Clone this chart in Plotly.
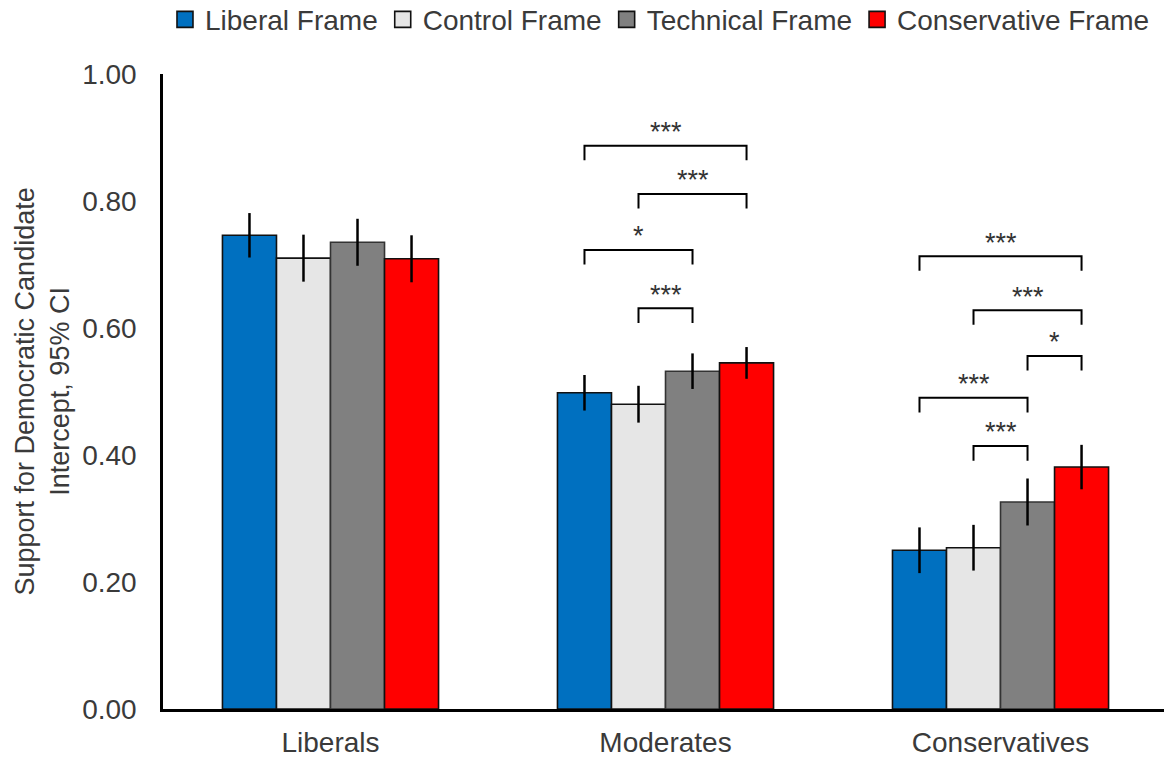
import plotly.graph_objects as go

# ---------------- data ----------------
categories = ["Liberals", "Moderates", "Conservatives"]
frames = ["Liberal Frame", "Control Frame", "Technical Frame", "Conservative Frame"]

liberal_frame_mean = [0.746, 0.498, 0.250]
control_frame_mean = [0.710, 0.480, 0.254]
technical_frame_mean = [0.735, 0.532, 0.326]
conservative_frame_mean = [0.709, 0.545, 0.381]

liberal_frame_ci = [0.035, 0.028, 0.036]
control_frame_ci = [0.037, 0.029, 0.036]
technical_frame_ci = [0.037, 0.028, 0.037]
conservative_frame_ci = [0.037, 0.025, 0.035]

y_ticks = [0.0, 0.2, 0.4, 0.6, 0.8, 1.0]
y_tick_labels = ["0.00", "0.20", "0.40", "0.60", "0.80", "1.00"]

# significance comparisons: (category index, frame a, frame b, stars)
comparisons = [
    (1, 0, 3, "***"),
    (1, 1, 3, "***"),
    (1, 0, 2, "*"),
    (1, 1, 2, "***"),
    (2, 0, 3, "***"),
    (2, 1, 3, "***"),
    (2, 2, 3, "*"),
    (2, 0, 2, "***"),
    (2, 1, 2, "***"),
]
# bracket heights (layout), one per comparison
bracket_heights = [0.887, 0.811, 0.723, 0.631, 0.713, 0.628, 0.556, 0.490, 0.414]

# ---------------- style ----------------
means = [liberal_frame_mean, control_frame_mean, technical_frame_mean, conservative_frame_mean]
cis = [liberal_frame_ci, control_frame_ci, technical_frame_ci, conservative_frame_ci]
colors = ["#0070C0", "#E6E6E6", "#808080", "#FF0000"]
outlines = ["#111111", "#111111", "#333333", "#111111"]
FONT = "Liberation Sans, Arial, sans-serif"
TXT = "#3a3a3a"
BARGAP = 0.355
n_frames = len(frames)
bar_w = (1 - BARGAP) / n_frames
xs = list(range(len(categories)))

fig = go.Figure()
for k in range(n_frames):
    fig.add_trace(go.Bar(
        x=xs, y=means[k], name=frames[k],
        marker=dict(color=colors[k], line=dict(color=outlines[k], width=1.6)),
        error_y=dict(type="data", array=cis[k], visible=True, color="#000000",
                     thickness=2.5, width=0),
        showlegend=False,
    ))
    # legend proxy
    fig.add_trace(go.Scatter(
        x=[None], y=[None], mode="markers", name=frames[k],
        marker=dict(symbol="square", size=17, color=colors[k],
                    line=dict(color="#111111", width=1.6)),
    ))


def bar_center(cat, frame):
    return cat + (frame - (n_frames - 1) / 2) * bar_w


leg = 0.023
for (cat, a, b, stars), h in zip(comparisons, bracket_heights):
    x0 = bar_center(cat, a)
    x1 = bar_center(cat, b)
    fig.add_shape(type="path",
                  path=f"M {x0} {h - leg} L {x0} {h} L {x1} {h} L {x1} {h - leg}",
                  xref="x", yref="y", line=dict(color="#000000", width=2))
    fig.add_annotation(x=(x0 + x1) / 2, y=h + 0.0215, text=stars, showarrow=False,
                       xref="x", yref="y", xanchor="center", yanchor="middle",
                       font=dict(family=FONT, size=27, color="#333333"))

fig.add_annotation(
    text="Support for Democratic Candidate<br>Intercept, 95% CI",
    textangle=-90, showarrow=False, xref="paper", yref="paper",
    x=(42 - 163) / 1001, y=0.5, xanchor="center", yanchor="middle",
    font=dict(family=FONT, size=27, color=TXT),
)

fig.update_layout(
    width=1164, height=757,
    margin=dict(l=163, r=0, t=74, b=48, autoexpand=False),
    paper_bgcolor="white", plot_bgcolor="white",
    barmode="group", bargap=BARGAP, bargroupgap=0,
    font=dict(family=FONT, size=28, color=TXT),
    legend=dict(orientation="h", xref="container", yref="paper",
                x=0.567, xanchor="center", y=1.125, yanchor="top",
                font=dict(family=FONT, size=28, color=TXT),
                itemclick=False, traceorder="normal",
                bgcolor="rgba(0,0,0,0)"),
    xaxis=dict(range=[-0.5, 2.488], tickvals=xs, ticktext=categories,
               showgrid=False, zeroline=False, showline=True,
               linecolor="#000000", linewidth=2.5, ticks="",
               ticklabelstandoff=7,
               tickfont=dict(family=FONT, size=28, color=TXT)),
    yaxis=dict(range=[0, 1], tickvals=y_ticks, ticktext=y_tick_labels,
               showgrid=False, zeroline=False, showline=True,
               linecolor="#000000", linewidth=2.5, ticks="",
               ticklabelstandoff=18,
               tickfont=dict(family=FONT, size=28, color=TXT)),
)

fig.write_html("out.html", config={"displayModeBar": False},
               post_script="document.body.style.margin='0';document.body.style.overflow='hidden';")
